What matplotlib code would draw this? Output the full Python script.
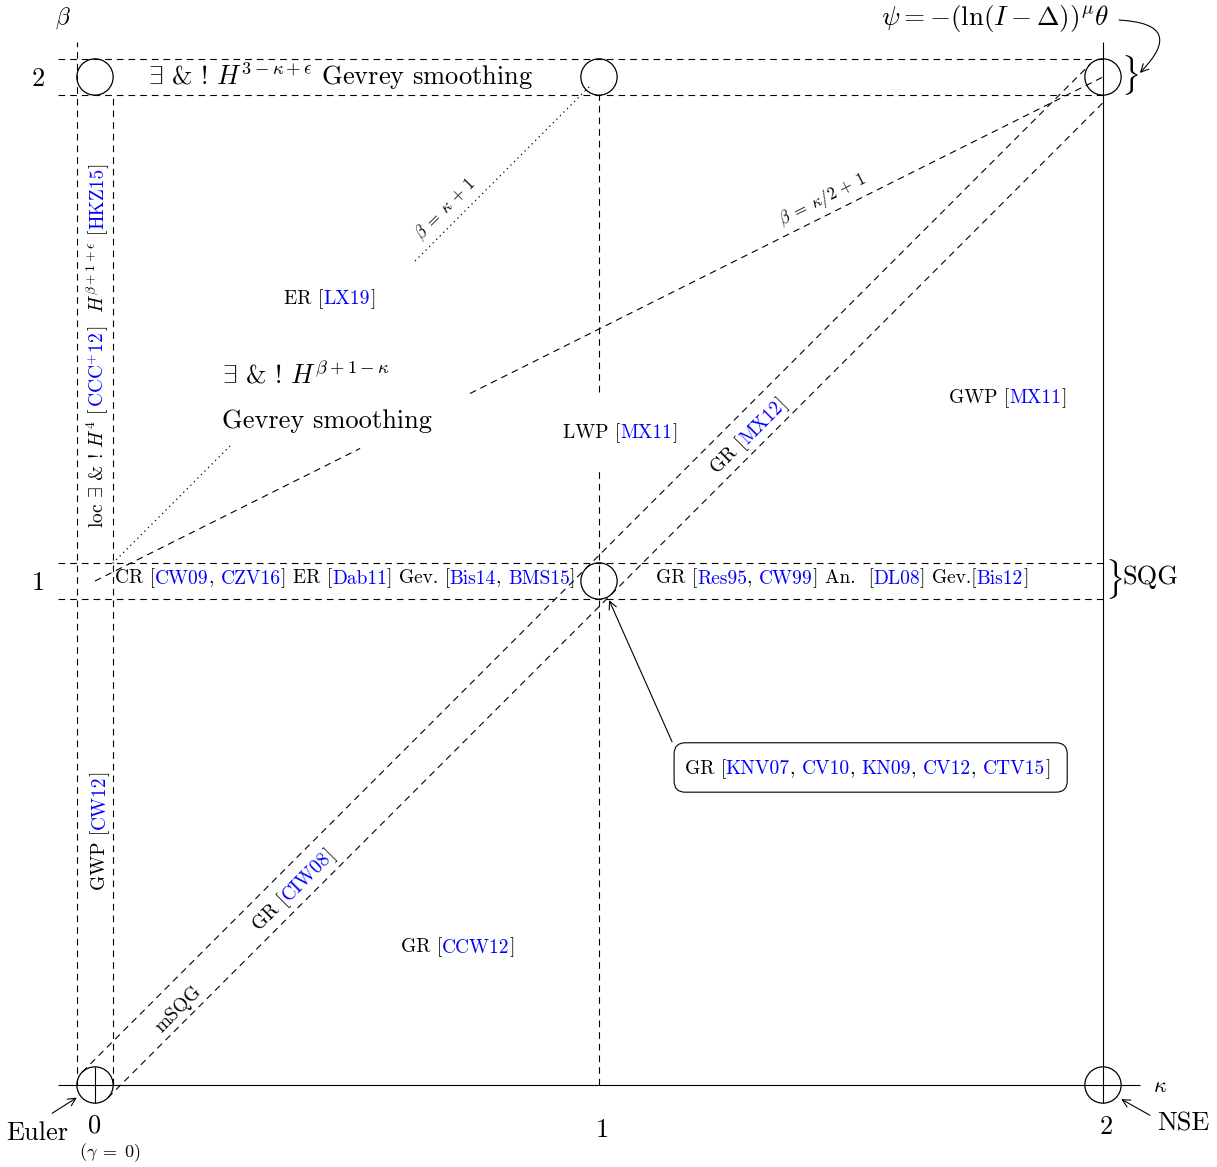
import matplotlib
matplotlib.use('Agg')
import matplotlib.pyplot as plt
from matplotlib.patches import Circle, FancyArrowPatch, FancyBboxPatch
import matplotlib.transforms as mtransforms
import numpy as np

plt.rcParams['font.family'] = 'cmr10'
plt.rcParams['mathtext.fontset'] = 'cm'
plt.rcParams['axes.formatter.use_mathtext'] = True

# ---------------- data -----------------
kappa_ticks = [0, 1, 2]
beta_ticks = [1, 2]
special_points = [(0, 0), (0, 2), (1, 2), (2, 2), (1, 1), (2, 0)]
R = 0.036                     # radius of the marked points
K, B = 'black', 'blue'

strip1_pieces = [("CR [", K), ("CW09", B), (", ", K), ("CZV16", B), ("] ER [", K),
                 ("Dab11", B), ("] Gev. [", K), ("Bis14", B), (", ", K), ("BMS15", B), ("]", K)]
strip2_pieces = [("GR [", K), ("Res95", B), (", ", K), ("CW99", B), ("] An.  [", K),
                 ("DL08", B), ("] Gev.[", K), ("Bis12", B), ("]", K)]
box_pieces = [("GR [", K), ("KNV07", B), (", ", K), ("CV10", B), (", ", K), ("KN09", B),
              (", ", K), ("CV12", B), (", ", K), ("CTV15", B), ("]", K)]
vert_pieces = [(r"loc $\exists$ & ! $H^4$ [", K), (r"$\mathrm{CCC}^{+}12$", B),
               (r"]  $H^{\beta+1+\epsilon}$ [", K), ("HKZ15", B), ("]", K)]
gwp_cw12 = [("GWP [", K), ("CW12", B), ("]", K)]
er_lx19 = [("ER [", K), ("LX19", B), ("]", K)]
lwp_mx11 = [("LWP [", K), ("MX11", B), ("]", K)]
gwp_mx11 = [("GWP [", K), ("MX11", B), ("]", K)]
gr_mx12 = [("GR [", K), ("MX12", B), ("]", K)]
gr_ciw08 = [("GR [", K), ("CIW08", B), ("]", K)]
gr_ccw12 = [("GR [", K), ("CCW12", B), ("]", K)]

# ---------------- figure -----------------
W, H, DPI = 1217, 1167, 100
PX = 504.0
X0, Y0 = 95, 1085
fig = plt.figure(figsize=(W / DPI, H / DPI), dpi=DPI)
ax = fig.add_axes([0, 0, 1, 1])
ax.set_xlim(-X0 / PX, (W - X0) / PX)
ax.set_ylim(-(H - Y0) / PX, Y0 / PX)
ax.set_axis_off()

BIG, SMALL, TINY = 19, 14, 12
LW = 0.8
DASH = (0, (6, 4.5))
DOT = (0, (1, 3))


def line(xs, ys, ls=DASH, lw=LW):
    ax.plot(xs, ys, color='k', lw=lw, ls=ls, dash_capstyle='butt', solid_capstyle='butt', zorder=2)


# solid axes
line([-0.073, 2.073], [0, 0], ls='-')
line([2, 2], [-R, 2.069], ls='-')
line([0, 0], [-R, R], ls='-')

# dashed strips
line([-R, -R], [0, 2.069])
line([R, R], [0, 2 - R])
for b in beta_ticks:
    line([-0.073, 2], [b + R, b + R])
    line([-0.073, 2], [b - R, b - R])
# kappa = 1 line (gap around LWP label)
line([1, 1], [0, 1.224])
line([1, 1], [1.375, 2 - R])

# tangent lines around beta = kappa
d = R / np.sqrt(2)
line([-d, 2 - d], [d, 2 + d])
line([d, 2], [-d, 2 - 2 * d])

# beta = kappa/2 + 1 (gap for text)
for k0, k1 in [(0, 0.526), (0.744, 2)]:
    line([k0, k1], [k0 / 2 + 1, k1 / 2 + 1])
# beta = kappa + 1 dotted (gap for text)
for k0, k1 in [(0.035, 0.268), (0.635, 0.982)]:
    line([k0, k1], [k0 + 1, k1 + 1], ls=DOT, lw=0.9)

for (x, y) in special_points:
    ax.add_patch(Circle((x, y), R, fill=False, lw=0.9, color='k', zorder=3))

# ---------------- rich text helper -----------------
renderer = fig.canvas.get_renderer()


def measure(s, fs):
    t = ax.text(0, 0, 'M' + s + 'M', fontsize=fs)
    w = t.get_window_extent(renderer).width
    t.remove()
    t = ax.text(0, 0, 'MM', fontsize=fs)
    w0 = t.get_window_extent(renderer).width
    t.remove()
    return w - w0


def rich(x, y, pieces, fs, rot=0, ha='center'):
    widths = [measure(s, fs) for s, c in pieces]
    total = sum(widths)
    th = np.deg2rad(rot)
    ux, uy = np.cos(th), np.sin(th)
    px, py = -np.sin(th), np.cos(th)
    fs_px = fs * DPI / 72.0
    cum = -total / 2 if ha == 'center' else 0.0
    bx, by = -0.34 * fs_px * px, -0.34 * fs_px * py
    for (s, c), w in zip(pieces, widths):
        tr = mtransforms.offset_copy(ax.transData, fig=fig, x=cum * ux + bx,
                                     y=cum * uy + by, units='dots')
        ax.text(x, y, s, fontsize=fs, color=c, rotation=rot, rotation_mode='anchor',
                ha='left', va='baseline', transform=tr, zorder=5)
        cum += w


# ---------------- tick labels -----------------
for b in beta_ticks:
    ax.text(-0.113, b - 0.018, str(b), fontsize=BIG, ha='center', va='baseline')
for k, yb in zip(kappa_ticks, [-0.095, -0.103, -0.097]):
    ax.text(k + (0.006 if k else 0), yb, str(k), fontsize=BIG, ha='center', va='baseline')
ax.text(-0.0635, 2.117, r'$\beta$', fontsize=17, ha='center', va='center')
ax.text(2.113, -0.003, r'$\kappa$', fontsize=16, ha='center', va='center')
ax.text(0.030, -0.135, r'$(\gamma\;=\;0)$', fontsize=13, ha='center', va='center')

ax.text(-0.115, -0.109, 'Euler', fontsize=BIG, ha='center', va='baseline')
ax.text(2.159, -0.091, 'NSE', fontsize=BIG, ha='center', va='baseline')
for a, b_ in [((-0.085, -0.056), (-0.036, -0.025)), ((2.093, -0.060), (2.036, -0.028))]:
    ax.add_patch(FancyArrowPatch(a, b_, arrowstyle='->', mutation_scale=14, lw=0.8,
                                 color='k', shrinkA=0, shrinkB=0, zorder=4))

# ---------------- big texts -----------------
ax.text(0.486, 1.984, r'$\exists$ & ! $H^{3-\kappa+\epsilon}$ Gevrey smoothing',
        fontsize=BIG, ha='center', va='baseline')
ax.text(1.786, 2.117, r'$\psi=-(\ln(I-\Delta))^{\mu}\theta$', fontsize=19.5,
        ha='center', va='center')
ax.add_patch(FancyArrowPatch((2.032, 2.113), (2.073, 2.008), connectionstyle='arc3,rad=-1.1',
                             arrowstyle='->', mutation_scale=14, lw=0.8, color='k',
                             shrinkA=0, shrinkB=0, zorder=4))
ax.text(2.054, 2.004, r'$\}$', fontsize=24, ha='center', va='center')
ax.text(2.021, 1.004, r'$\}$', fontsize=24, ha='center', va='center')
ax.text(2.038, 1.007, 'SQG', fontsize=BIG, ha='left', va='center')

ax.text(0.252, 1.391, r'$\exists$ & ! $H^{\beta+1-\kappa}$', fontsize=BIG, ha='left', va='baseline')
ax.text(0.252, 1.304, 'Gevrey smoothing', fontsize=BIG, ha='left', va='baseline')

# ---------------- small labels -----------------
rich(0.004, 1.468, vert_pieces, SMALL, rot=90)
rich(0.006, 0.506, gwp_cw12, SMALL, rot=90)
rich(0.466, 1.562, er_lx19, SMALL)
rich(1.042, 1.296, lwp_mx11, SMALL)
rich(1.812, 1.367, gwp_mx11, SMALL)
rich(1.296, 1.290, gr_mx12, SMALL, rot=45)
rich(0.393, 0.389, gr_ciw08, SMALL, rot=45)
rich(0.720, 0.276, gr_ccw12, SMALL)
rich(0.163, 0.153, [("mSQG", K)], SMALL, rot=45)
rich(0.694, 1.740, [(r"$\beta\;=\;\kappa\,+\,1$", K)], TINY, rot=45)
rich(1.444, 1.760, [(r"$\beta\;=\;\kappa/2\,+\,1$", K)], TINY, rot=np.degrees(np.arctan(0.5)))
rich(0.040, 1.008, strip1_pieces, SMALL, ha='left')
rich(1.113, 1.008, strip2_pieces, SMALL, ha='left')

# rounded box with arrow
ax.add_patch(FancyBboxPatch((1.149, 0.581), 0.780, 0.098,
                            boxstyle='round,pad=0,rounding_size=0.022',
                            fill=False, lw=0.8, ec='k', zorder=4))
rich(1.533, 0.630, box_pieces, SMALL)
ax.add_patch(FancyArrowPatch((1.145, 0.681), (1.020, 0.962), arrowstyle='->',
                             mutation_scale=14, lw=0.8, color='k', shrinkA=0, shrinkB=0, zorder=4))

fig.savefig('out.png', dpi=DPI)
